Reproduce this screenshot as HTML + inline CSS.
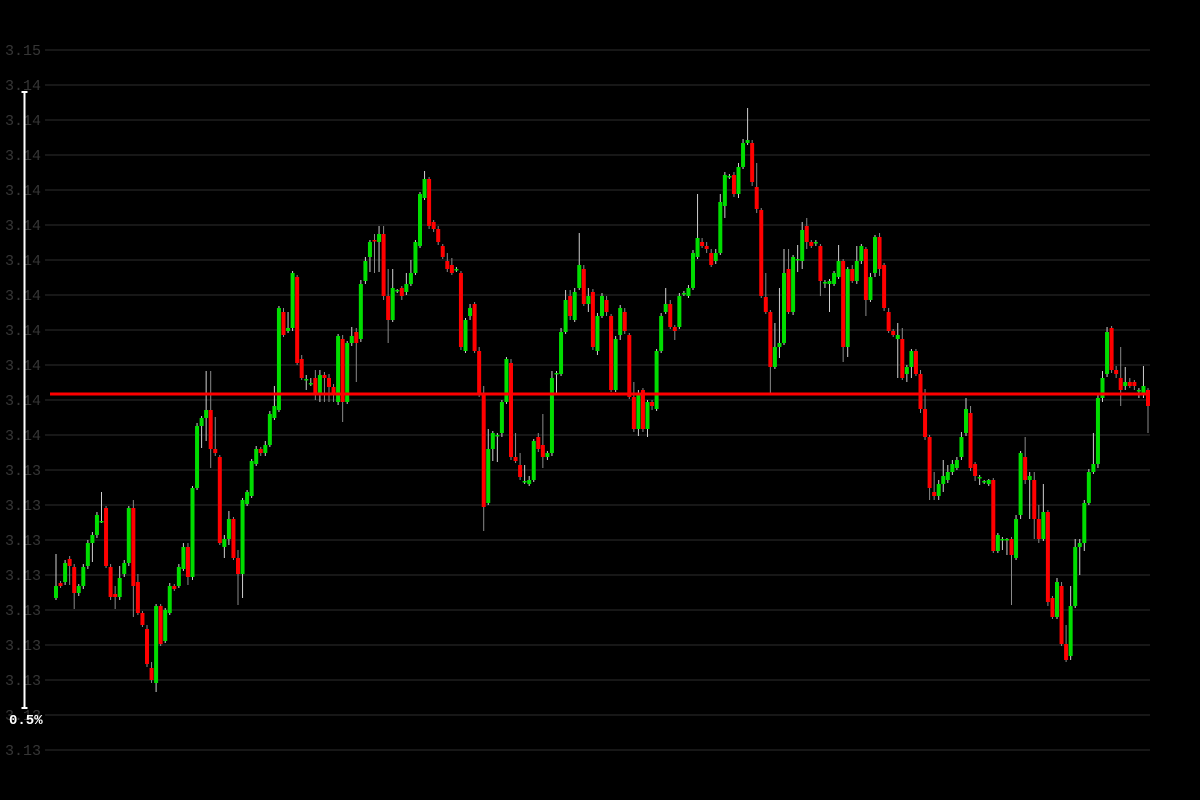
<!DOCTYPE html>
<html><head><meta charset="utf-8"><style>
html,body{margin:0;padding:0;background:#000;}
svg{display:block;}
</style></head><body>
<svg id="chart" width="1200" height="800" xmlns="http://www.w3.org/2000/svg">
<rect x="0" y="0" width="1200" height="800" fill="#000"/>
<g id="grid"></g>
<g id="ylabels"></g>
<g id="candles"></g>
<g id="overlay"></g>
</svg>
<script>
const tickLabels = ["3.15","3.14","3.14","3.14","3.14","3.14","3.14","3.14","3.14","3.14","3.14","3.14","3.13","3.13","3.13","3.13","3.13","3.13","3.13","3.13","3.13"];
const lastPrice = 3.10606;
const rangePercent = "0.5%";
const opens = [3.10402,3.10417,3.10418,3.10441,3.10433,3.10407,3.10414,3.10434,3.10457,3.10465,3.10478,3.10492,3.10433,3.10406,3.10403,3.10426,3.10437,3.10492,3.10418,3.10387,3.10371,3.10332,3.10317,3.10394,3.10359,3.10387,3.10414,3.10414,3.10431,3.10453,
3.10423,3.10512,3.10574,3.10582,3.10590,3.10551,3.10543,3.10453,3.10461,3.10481,3.10442,3.10426,3.10496,3.10504,3.10536,3.10551,3.10547,3.10555,3.10582,3.10590,
3.10688,3.10669,3.10672,3.10723,3.10641,3.10620,3.10616,3.10622,3.10607,3.10625,3.10622,3.10613,3.10598,3.10661,3.10598,3.10657,3.10668,3.10661,3.10719,3.10743,
3.10760,3.10758,3.10766,3.10704,3.10680,3.10709,3.10712,3.10708,3.10716,3.10727,3.10754,3.10802,3.10821,3.10778,3.10771,3.10754,3.10739,3.10735,3.10730,3.10727,
3.10649,3.10684,3.10696,3.10649,3.10605,3.10497,3.10551,3.10564,3.10567,3.10598,3.10637,3.10543,3.10535,3.10518,3.10516,3.10520,3.10563,3.10555,3.10543,3.10547,
3.10626,3.10626,3.10668,3.10704,3.10680,3.10712,3.10731,3.10696,3.10708,3.10649,3.10684,3.10700,3.10684,3.10610,3.10665,3.10688,3.10665,3.10603,3.10571,3.10610,
3.10571,3.10598,3.10591,3.10649,3.10688,3.10696,3.10673,3.10673,3.10706,3.10704,3.10712,3.10743,3.10758,3.10754,3.10747,3.10739,3.10747,3.10794,3.10823,3.10825,
3.10806,3.10833,3.10857,3.10857,3.10813,3.10790,3.10703,3.10688,3.10633,3.10653,3.10657,3.10731,3.10688,3.10740,3.10739,3.10774,3.10758,3.10757,3.10754,3.10717,
3.10716,3.10716,3.10723,3.10739,3.10653,3.10731,3.10719,3.10739,3.10751,3.10700,3.10727,3.10763,3.10735,3.10688,3.10669,3.10661,3.10661,3.10626,3.10633,3.10649,
3.10626,3.10591,3.10563,3.10508,3.10504,3.10516,3.10520,3.10528,3.10532,3.10543,3.10567,3.10587,3.10536,3.10522,3.10518,3.10516,3.10520,3.10449,3.10460,3.10460,
3.10461,3.10442,3.10485,3.10543,3.10520,3.10520,3.10481,3.10461,3.10488,3.10402,3.10383,3.10414,3.10356,3.10344,3.10394,3.10453,3.10457,3.10497,3.10528,3.10536,
3.10602,3.10626,3.10672,3.10630,3.10622,3.10614,3.10618,3.10618,3.10609,3.10606,3.10610];
const closes = [3.10414,3.10414,3.10437,3.10434,3.10407,3.10414,3.10433,3.10457,3.10465,3.10485,3.10479,3.10434,3.10403,3.10403,3.10422,3.10437,3.10492,3.10414,3.10387,3.10375,3.10336,3.10320,3.10394,3.10356,3.10390,3.10414,3.10411,3.10433,3.10453,3.10423,
3.10512,3.10574,3.10582,3.10590,3.10551,3.10547,3.10457,3.10461,3.10481,3.10442,3.10426,3.10500,3.10508,3.10539,3.10551,3.10547,3.10555,3.10586,3.10594,3.10692,
3.10665,3.10672,3.10727,3.10637,3.10622,3.10621,3.10617,3.10607,3.10625,3.10622,3.10613,3.10607,3.10664,3.10598,3.10657,3.10664,3.10657,3.10716,3.10739,3.10758,
3.10759,3.10766,3.10704,3.10680,3.10712,3.10710,3.10704,3.10716,3.10727,3.10758,3.10806,3.10821,3.10774,3.10771,3.10758,3.10743,3.10731,3.10727,3.10731,3.10653,
3.10680,3.10692,3.10649,3.10605,3.10493,3.10551,3.10567,3.10565,3.10598,3.10641,3.10543,3.10539,3.10523,3.10519,3.10520,3.10559,3.10551,3.10543,3.10547,3.10622,
3.10627,3.10668,3.10700,3.10684,3.10708,3.10735,3.10696,3.10704,3.10653,3.10684,3.10704,3.10688,3.10610,3.10661,3.10692,3.10669,3.10603,3.10571,3.10605,3.10571,
3.10598,3.10594,3.10649,3.10684,3.10696,3.10673,3.10669,3.10704,3.10707,3.10712,3.10747,3.10762,3.10754,3.10751,3.10735,3.10747,3.10798,3.10825,3.10824,3.10806,
3.10833,3.10857,3.10860,3.10818,3.10791,3.10704,3.10688,3.10633,3.10653,3.10657,3.10727,3.10688,3.10743,3.10741,3.10770,3.10758,3.10754,3.10758,3.10719,3.10718,
3.10719,3.10727,3.10739,3.10653,3.10731,3.10719,3.10739,3.10754,3.10700,3.10723,3.10763,3.10731,3.10692,3.10669,3.10665,3.10665,3.10622,3.10633,3.10649,3.10626,
3.10591,3.10563,3.10512,3.10504,3.10516,3.10524,3.10528,3.10536,3.10540,3.10563,3.10591,3.10532,3.10524,3.10523,3.10519,3.10520,3.10449,3.10465,3.10461,3.10461,
3.10445,3.10481,3.10547,3.10520,3.10524,3.10481,3.10461,3.10488,3.10398,3.10383,3.10418,3.10356,3.10340,3.10394,3.10453,3.10457,3.10497,3.10528,3.10536,3.10602,
3.10622,3.10668,3.10630,3.10626,3.10610,3.10618,3.10614,3.10614,3.10610,3.10614,3.10594];
const highs = [3.10446,3.10419,3.10440,3.10444,3.10436,3.10416,3.10436,3.10460,3.10468,3.10488,3.10508,3.10494,3.10436,3.10414,3.10434,3.10440,3.10494,3.10500,3.10426,3.10389,3.10375,3.10338,3.10396,3.10396,3.10392,3.10417,3.10416,3.10436,3.10457,3.10457,
3.10514,3.10577,3.10584,3.10629,3.10629,3.10583,3.10545,3.10465,3.10489,3.10483,3.10450,3.10502,3.10510,3.10541,3.10554,3.10553,3.10559,3.10589,3.10614,3.10694,
3.10692,3.10688,3.10729,3.10725,3.10645,3.10625,3.10622,3.10630,3.10630,3.10628,3.10626,3.10616,3.10666,3.10665,3.10659,3.10673,3.10672,3.10720,3.10743,3.10760,
3.10766,3.10774,3.10774,3.10731,3.10731,3.10711,3.10714,3.10727,3.10740,3.10760,3.10808,3.10829,3.10823,3.10780,3.10774,3.10756,3.10747,3.10742,3.10733,3.10729,
3.10682,3.10696,3.10698,3.10653,3.10614,3.10571,3.10569,3.10567,3.10600,3.10643,3.10641,3.10567,3.10547,3.10535,3.10524,3.10561,3.10567,3.10586,3.10549,3.10629,
3.10629,3.10672,3.10710,3.10710,3.10712,3.10767,3.10735,3.10712,3.10711,3.10687,3.10707,3.10704,3.10686,3.10664,3.10695,3.10692,3.10667,3.10618,3.10610,3.10612,
3.10600,3.10600,3.10651,3.10687,3.10712,3.10700,3.10675,3.10707,3.10709,3.10715,3.10750,3.10806,3.10762,3.10758,3.10751,3.10751,3.10806,3.10828,3.10826,3.10828,
3.10837,3.10861,3.10892,3.10860,3.10837,3.10792,3.10727,3.10690,3.10677,3.10712,3.10751,3.10751,3.10745,3.10755,3.10778,3.10782,3.10760,3.10760,3.10756,3.10720,
3.10721,3.10729,3.10755,3.10741,3.10733,3.10735,3.10754,3.10756,3.10753,3.10727,3.10765,3.10767,3.10737,3.10692,3.10671,3.10677,3.10672,3.10635,3.10651,3.10651,
3.10630,3.10611,3.10565,3.10528,3.10520,3.10540,3.10535,3.10540,3.10543,3.10568,3.10602,3.10594,3.10538,3.10525,3.10520,3.10521,3.10522,3.10467,3.10463,3.10462,
3.10463,3.10485,3.10549,3.10563,3.10528,3.10528,3.10495,3.10516,3.10490,3.10404,3.10422,3.10418,3.10375,3.10414,3.10461,3.10461,3.10500,3.10531,3.10567,3.10605,
3.10629,3.10673,3.10674,3.10634,3.10653,3.10633,3.10622,3.10620,3.10612,3.10634,3.10612];
const lows = [3.10400,3.10412,3.10415,3.10415,3.10391,3.10404,3.10411,3.10431,3.10438,3.10462,3.10477,3.10432,3.10400,3.10391,3.10400,3.10423,3.10434,3.10383,3.10385,3.10373,3.10333,3.10317,3.10308,3.10354,3.10357,3.10385,3.10409,3.10412,3.10429,3.10415,
3.10420,3.10510,3.10552,3.10559,3.10532,3.10544,3.10455,3.10442,3.10455,3.10440,3.10395,3.10402,3.10494,3.10502,3.10534,3.10544,3.10544,3.10553,3.10580,3.10588,
3.10663,3.10667,3.10669,3.10635,3.10620,3.10610,3.10614,3.10600,3.10598,3.10598,3.10598,3.10598,3.10595,3.10578,3.10596,3.10654,3.10618,3.10658,3.10716,3.10728,
3.10727,3.10728,3.10700,3.10657,3.10678,3.10707,3.10700,3.10705,3.10714,3.10725,3.10752,3.10800,3.10771,3.10768,3.10755,3.10741,3.10728,3.10725,3.10728,3.10650,
3.10647,3.10680,3.10647,3.10603,3.10469,3.10495,3.10539,3.10538,3.10563,3.10596,3.10540,3.10537,3.10520,3.10516,3.10514,3.10518,3.10548,3.10532,3.10540,3.10544,
3.10605,3.10624,3.10666,3.10680,3.10678,3.10710,3.10694,3.10688,3.10650,3.10645,3.10682,3.10684,3.10608,3.10608,3.10660,3.10666,3.10601,3.10568,3.10564,3.10568,
3.10563,3.10590,3.10589,3.10647,3.10686,3.10671,3.10660,3.10671,3.10704,3.10702,3.10710,3.10741,3.10752,3.10747,3.10733,3.10736,3.10745,3.10782,3.10821,3.10803,
3.10802,3.10831,3.10855,3.10814,3.10787,3.10702,3.10686,3.10607,3.10631,3.10642,3.10655,3.10686,3.10685,3.10728,3.10731,3.10751,3.10752,3.10754,3.10704,3.10712,
3.10688,3.10714,3.10721,3.10638,3.10643,3.10717,3.10716,3.10736,3.10684,3.10698,3.10723,3.10724,3.10689,3.10667,3.10663,3.10622,3.10620,3.10618,3.10622,3.10624,
3.10587,3.10560,3.10500,3.10500,3.10500,3.10508,3.10517,3.10525,3.10530,3.10540,3.10564,3.10529,3.10519,3.10515,3.10516,3.10514,3.10447,3.10447,3.10450,3.10445,
3.10395,3.10440,3.10481,3.10516,3.10481,3.10461,3.10457,3.10459,3.10394,3.10381,3.10381,3.10354,3.10338,3.10340,3.10392,3.10425,3.10449,3.10495,3.10526,3.10532,
3.10598,3.10623,3.10627,3.10622,3.10594,3.10610,3.10612,3.10610,3.10602,3.10602,3.10567];

const NS = "http://www.w3.org/2000/svg";
const plotTop = 50, plotBottom = 750, vTop = 3.1095, vBottom = 3.1025;
function yScale(v){ return plotTop + (vTop - v) / (vTop - vBottom) * (plotBottom - plotTop); }
function xScale(i){ return 56 + i * 4.55; }
function mk(tag, attrs, parent){
  const e = document.createElementNS(NS, tag);
  for (const k in attrs) e.setAttribute(k, attrs[k]);
  parent.appendChild(e);
  return e;
}
const grid = document.getElementById('grid');
const ylabels = document.getElementById('ylabels');
for (let k = 0; k < tickLabels.length; k++) {
  const v = vTop - k * (vTop - vBottom) / (tickLabels.length - 1);
  const y = yScale(v);
  const ln = mk('line', {x1:45, x2:1150, y1:y, y2:y, stroke:'#1f1f1f', 'stroke-width':1.5}, grid);
  
  
  const t = mk('text', {x:5, y:y+5, fill:'#363636', 'font-family':'"Liberation Mono", monospace', 'font-size':15}, ylabels);
  t.textContent = tickLabels[k];
  
  
}
const cg = document.getElementById('candles');
for (let i = 0; i < opens.length; i++) {
  const x = xScale(i);
  const o = opens[i], c = closes[i];
  const up = c >= o;
  const col = up ? '#00dd00' : '#ff0000';
  const w = mk('line', {x1:x, x2:x, y1:yScale(highs[i]), y2:yScale(lows[i]), stroke: up ? '#cfcfcf' : '#8a8a8a', 'stroke-width':1}, cg);
  
  
  const yt = yScale(Math.max(o, c)), yb = yScale(Math.min(o, c));
  const b = mk('rect', {x:x-2, y:yt, width:4, height:Math.max(1.5, yb-yt), fill:col}, cg);
  
  
}
const ov = document.getElementById('overlay');
const ly = yScale(lastPrice);
const pl = mk('line', {x1:50, x2:1150, y1:ly, y2:ly, stroke:'#ff0000', 'stroke-width':3}, ov);


const bar = mk('path', {d:'M24.5 92 V708 M21.5 92 H27.5 M21.5 708 H27.5', stroke:'#fff', 'stroke-width':2, fill:'none'}, ov);


const pt = mk('text', {x:9, y:724, fill:'#fff', 'font-family':'"Liberation Mono", monospace', 'font-size':14, 'font-weight':'bold'}, ov);
pt.textContent = rangePercent;


</script>
</body></html>
